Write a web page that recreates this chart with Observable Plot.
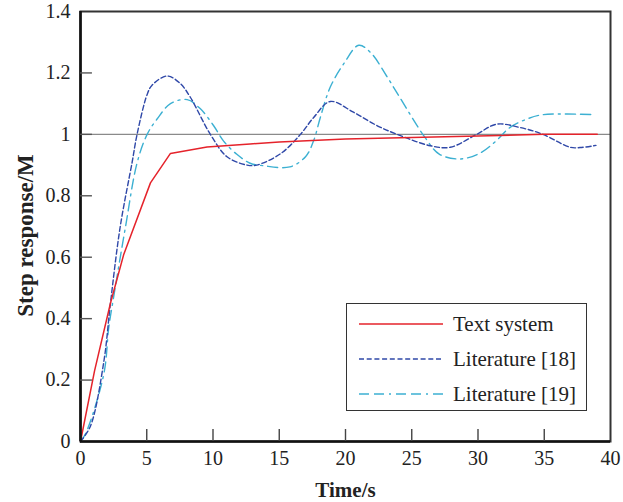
<!DOCTYPE html>
<html>
<head>
<meta charset="utf-8">
<script src="https://cdn.jsdelivr.net/npm/d3@7"></script>
<script src="https://cdn.jsdelivr.net/npm/@observablehq/plot@0.6"></script>
<style>
  body { margin: 0; background: #fff; }
  #wrap { position: relative; width: 623px; height: 502px; color: #222; }
  #legend { position: absolute; left: 346px; top: 303px; width: 241px; height: 108px; border: 1px solid #333; background: #fff; box-sizing: border-box; font-family: "Liberation Serif", "Times New Roman", serif; }
  .row { position: absolute; left: 0; height: 24px; width: 100%; }
  .sample { position: absolute; left: 11px; top: 0; }
  .row span { position: absolute; left: 106px; top: 0; line-height: 24px; font-size: 21px; white-space: nowrap; }
</style>
</head>
<body>
<div id="wrap"></div>
<script>
// ---- data ----
const seriesNames = ["Text system", "Literature [18]", "Literature [19]"];

const timeText = [0, 1.06, 2.26, 3.27, 5.28, 6.79, 9.55, 12.8, 15, 20, 25, 30, 35, 39];
const respText = [0, 0.23, 0.45, 0.61, 0.842, 0.938, 0.959, 0.969, 0.975, 0.985, 0.99, 0.995, 1.0, 1.0];

const timeLit18 = [0, 0.75, 1.76, 2.26, 3.0, 3.9, 4.27, 5.03, 5.4, 6.54, 7.54, 8.3, 9.8, 11.06, 12.57, 13.3, 15.1, 16.6, 17.6, 18.85, 20.6, 22.4, 23.9, 26.4, 27.9, 29.9, 31.4, 33.2, 34.9, 36.95, 37.7, 38.9];
const respLit18 = [0, 0.05, 0.26, 0.45, 0.70, 0.91, 1.0, 1.13, 1.16, 1.19, 1.165, 1.12, 1.0, 0.927, 0.90, 0.90, 0.937, 1.0, 1.055, 1.107, 1.072, 1.028, 1.0, 0.963, 0.958, 1.0, 1.033, 1.022, 1.0, 0.958, 0.957, 0.964];

const timeLit19 = [0, 0.38, 1.76, 2.13, 2.5, 3.4, 4.27, 5.03, 5.78, 6.79, 8.05, 9.05, 10.05, 10.8, 11.8, 12.8, 13.8, 15.8, 17.0, 17.6, 18.1, 18.85, 19.9, 21.0, 21.9, 23.1, 24.1, 26.0, 27.1, 28.7, 30.2, 31.4, 32.4, 33.7, 34.9, 38.8];
const respLit19 = [0, 0.025, 0.22, 0.37, 0.47, 0.70, 0.907, 1.0, 1.05, 1.10, 1.113, 1.083, 1.028, 0.978, 0.935, 0.906, 0.898, 0.894, 0.928, 0.98, 1.055, 1.154, 1.232, 1.29, 1.266, 1.19, 1.12, 0.99, 0.935, 0.92, 0.94, 0.98, 1.022, 1.05, 1.064, 1.064];

const xTickVals = [0, 5, 10, 15, 20, 25, 30, 35, 40];
const xTickLabels = ["0", "5", "10", "15", "20", "25", "30", "35", "40"];
const yTickVals = [0, 0.2, 0.4, 0.6, 0.8, 1, 1.2, 1.4];
const yTickLabels = ["0", "0.2", "0.4", "0.6", "0.8", "1", "1.2", "1.4"];
const referenceLevel = [1];
const xLabel = "Time/s";
const yLabel = "Step response/M";

// ---- styles ----
const colors = ["#e5232b", "#2f48a8", "#3cb0d2"];
const dashes = [null, "5,2.7", "10,5,10,5,2,5"];
const serif = "'Liberation Serif', 'Times New Roman', serif";
// inward tick lengths expressed in axis units (about 12 px)
const xTickLen = 0.039;
const yTickLen = 0.9;

const toRows = (ts, vs) => ts.map((t, i) => ({t, v: vs[i]}));
const textRows = toRows(timeText, respText);
const lit18Rows = toRows(timeLit18, respLit18);
const lit19Rows = toRows(timeLit19, respLit19);

const innerX = xTickVals.slice(1, -1);
const innerY = yTickVals.slice(1, -1);

const fmtX = d => xTickLabels[xTickVals.indexOf(d)];
const fmtY = d => yTickLabels[yTickVals.indexOf(d)];

const chart = Plot.plot({
  width: 623,
  height: 502,
  marginLeft: 80,
  marginRight: 13,
  marginTop: 11,
  marginBottom: 61,
  style: { fontFamily: serif, background: "#fff", color: "#222" },
  x: { domain: [0, 40], label: null },
  y: { domain: [0, 1.4], label: null },
  marks: [
    Plot.ruleY(referenceLevel, { stroke: "#8a8a8a", strokeWidth: 1.2 }),
    Plot.line(lit19Rows, { x: "t", y: "v", stroke: colors[2], strokeWidth: 1.4, strokeDasharray: dashes[2], curve: "catmull-rom" }),
    Plot.line(lit18Rows, { x: "t", y: "v", stroke: colors[1], strokeWidth: 1.4, strokeDasharray: dashes[1], curve: "catmull-rom" }),
    Plot.line(textRows, { x: "t", y: "v", stroke: colors[0], strokeWidth: 1.5, curve: "linear" }),
    Plot.frame({ stroke: "#333", strokeWidth: 2 }),
    Plot.ruleX([0], { stroke: "#111", strokeWidth: 2.6 }),
    Plot.ruleY([0], { stroke: "#111", strokeWidth: 2.6 }),
    Plot.ruleX(innerX, { x: d => d, y1: 0, y2: xTickLen, stroke: "#444", strokeWidth: 1.4 }),
    Plot.ruleY(innerY, { y: d => d, x1: 0, x2: yTickLen, stroke: "#555", strokeWidth: 1.4 }),
    Plot.axisX({ ticks: xTickVals, tickFormat: fmtX, tickSize: 0, tickPadding: 9, fontSize: 20, fontFamily: serif, label: null }),
    Plot.axisY({ ticks: yTickVals, tickFormat: fmtY, tickSize: 0, tickPadding: 10, fontSize: 20, fontFamily: serif, label: null }),
    Plot.text([xLabel], { frameAnchor: "bottom", dy: 49, fontSize: 21, fontWeight: "bold", fontFamily: serif, lineAnchor: "middle" }),
    Plot.text([yLabel], { frameAnchor: "left", textAnchor: "middle", rotate: -90, dx: -55, dy: 9, fontSize: 23, fontWeight: "bold", fontFamily: serif, lineAnchor: "middle" })
  ]
});

const wrap = document.getElementById("wrap");
wrap.appendChild(chart);

// legend (inside the plot area, HTML overlay)
const legend = document.createElement("div");
legend.id = "legend";
const rowCenters = [19.5, 55, 90];
seriesNames.forEach((name, i) => {
  const row = document.createElement("div");
  row.className = "row";
  row.style.top = (rowCenters[i] - 12) + "px";
  const ns = "http://www.w3.org/2000/svg";
  const svg = document.createElementNS(ns, "svg");
  svg.setAttribute("class", "sample");
  svg.setAttribute("width", 86);
  svg.setAttribute("height", 24);
  const ln = document.createElementNS(ns, "line");
  ln.setAttribute("x1", 1); ln.setAttribute("x2", 85);
  ln.setAttribute("y1", 12); ln.setAttribute("y2", 12);
  ln.setAttribute("stroke", colors[i]);
  ln.setAttribute("stroke-width", i === 0 ? 1.5 : 1.4);
  if (dashes[i]) ln.setAttribute("stroke-dasharray", dashes[i]);
  svg.appendChild(ln);
  const sp = document.createElement("span");
  sp.textContent = name;
  row.appendChild(svg);
  row.appendChild(sp);
  legend.appendChild(row);
});
wrap.appendChild(legend);
</script>
</body>
</html>
